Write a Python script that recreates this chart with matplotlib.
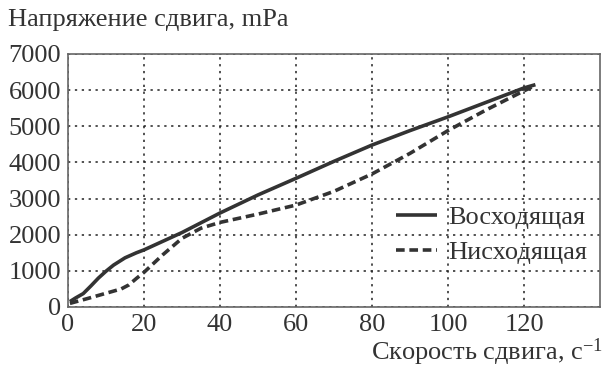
import matplotlib
matplotlib.use("Agg")
import matplotlib.pyplot as plt

plt.rcParams['font.family'] = ['Liberation Serif', 'DejaVu Serif']
plt.rcParams['mathtext.fontset'] = 'custom'
plt.rcParams['mathtext.rm'] = 'Liberation Serif'
plt.rcParams['mathtext.it'] = 'Liberation Serif'

# Восходящая (up curve)
up_x = [0.5, 2, 4, 6, 8, 10, 12, 15, 18, 20, 25, 30, 40, 50, 60, 70, 80, 90, 100, 110, 120, 123]
up_y = [150, 250, 370, 580, 800, 990, 1160, 1360, 1500, 1580, 1820, 2060, 2600, 3100, 3560, 4030, 4480, 4880, 5260, 5660, 6060, 6150]

# Нисходящая (down curve)
down_x = [0.5, 5, 10, 14, 16, 18, 20, 25, 30, 35, 40, 50, 60, 70, 80, 90, 100, 110, 120, 122]
down_y = [100, 230, 380, 500, 610, 790, 960, 1450, 1900, 2180, 2340, 2570, 2820, 3200, 3680, 4250, 4880, 5450, 5980, 6080]

xticks = [0, 20, 40, 60, 80, 100, 120]
yticks = [0, 1000, 2000, 3000, 4000, 5000, 6000, 7000]

col = '#333333'
fs = 19

fig = plt.figure(figsize=(6.04, 3.67), dpi=100)
ax = fig.add_axes([0.1126, 0.1635, 0.8808, 0.6895])

ax.plot(up_x, up_y, color=col, lw=2.6, label='Восходящая', solid_capstyle='butt')
ax.plot(down_x, down_y, color=col, lw=2.6, ls=(0, (2.4, 1.3)), label='Нисходящая')

ax.set_xlim(0, 140)
ax.set_ylim(0, 7000)
ax.set_xticks(xticks)
ax.set_yticks(yticks)
ax.tick_params(length=0, labelsize=fs, colors=col, pad=5)
ax.grid(True, color='#222222', ls=(0, (1.5, 3)), lw=1.1)

for s in ax.spines.values():
    s.set_color('#666666')
    s.set_linewidth(1.2)

leg = ax.legend(loc='center right', bbox_to_anchor=(1.02, 0.285), frameon=False,
                fontsize=fs, handlelength=1.55, labelspacing=0.45, handletextpad=0.4)
for t in leg.get_texts():
    t.set_color(col)

fig.text(0.013, 0.945, 'Напряжение сдвига, mPa', fontsize=fs, color=col,
         ha='left', va='center')
fig.text(0.998, 0.04, 'Скорость сдвига, с$^{-1}$', fontsize=fs, color=col,
         ha='right', va='center')

fig.savefig('out.png', dpi=100)
